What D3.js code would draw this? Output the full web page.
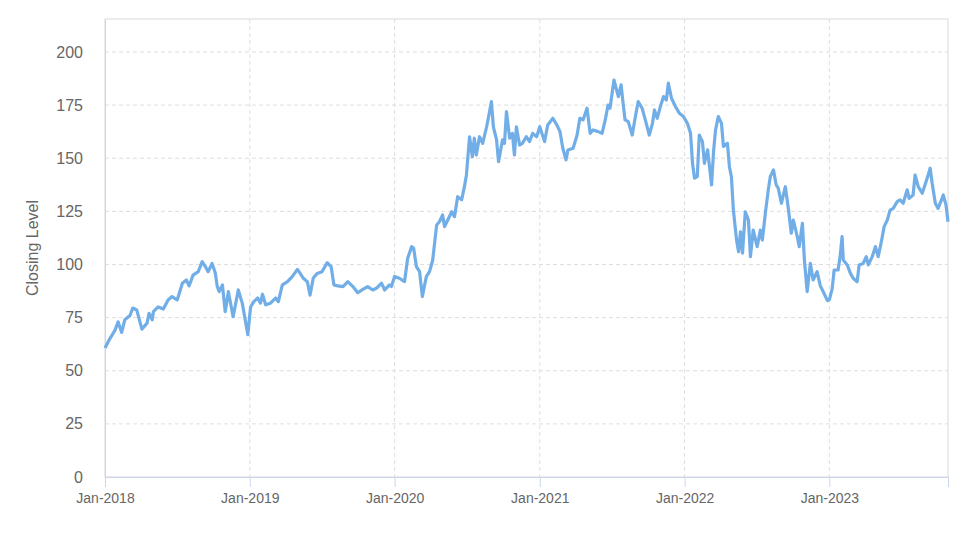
<!DOCTYPE html>
<html>
<head>
<meta charset="utf-8">
<script src="https://cdn.jsdelivr.net/npm/d3@7"></script>
<style>
  body { margin: 0; background: #fff; }
  svg { display: block; font-family: "Liberation Sans", Arial, sans-serif; }
</style>
</head>
<body>
<div class="graph"></div>
<script>
// closing levels (date, close)
const y2018 = [
  ["2018-01-01",60.7],["2018-01-13",65],["2018-01-26",69],["2018-02-03",73],["2018-02-12",68],
  ["2018-02-20",74],["2018-03-05",76],["2018-03-12",79.5],["2018-03-22",78.6],["2018-03-30",73],
  ["2018-04-04",69.6],["2018-04-17",72.4],["2018-04-22",77],["2018-04-30",74],["2018-05-03",77.8],
  ["2018-05-15",80],["2018-05-28",79],["2018-06-09",83.3],["2018-06-19",84.9],["2018-07-02",83.3],
  ["2018-07-15",91.2],["2018-07-25",92.7],["2018-08-01",89.9],["2018-08-11",95],["2018-08-24",96.6],
  ["2018-09-03",101.3],["2018-09-11",99],["2018-09-18",96.6],["2018-09-28",100.5],["2018-10-06",96],
  ["2018-10-11",89.6],["2018-10-16",87.2],["2018-10-24",90.4],["2018-10-31",77.8],["2018-11-08",87.2],
  ["2018-11-20",75.4],["2018-12-03",88],["2018-12-13",81.8],["2018-12-27",67]
]
const y2019 = [
  ["2019-01-03",80],["2019-01-11",82.5],["2019-01-21",84.2],["2019-01-28",81.8],["2019-02-02",86],
  ["2019-02-10",81],["2019-02-22",81.8],["2019-03-07",84.2],["2019-03-14",82.5],["2019-03-24",90.4],
  ["2019-04-06",91.9],["2019-04-18",94.3],["2019-05-01",97.7],["2019-05-08",95.8],["2019-05-16",93.5],
  ["2019-05-26",91.9],["2019-06-02",85.6],["2019-06-10",93.6],["2019-06-20",95.8],["2019-07-02",96.6],
  ["2019-07-15",100.8],["2019-07-25",99],["2019-08-01",90.4],["2019-08-11",89.9],["2019-08-24",89.6],
  ["2019-09-05",91.9],["2019-09-18",89.6],["2019-09-30",86.7],["2019-10-13",88.3],["2019-10-25",89.6],
  ["2019-11-07",88],["2019-11-17",88.9],["2019-11-29",91.2],["2019-12-07",88],["2019-12-19",90.4],
  ["2019-12-24",89.6]
]
const y2020 = [
  ["2020-01-01",94.3],["2020-01-13",93.5],["2020-01-26",91.9],["2020-02-03",102.9],["2020-02-13",108.4],
  ["2020-02-18",107.6],["2020-02-25",99],["2020-03-04",96.6],["2020-03-11",84.9],["2020-03-21",94.3],
  ["2020-03-29",96.6],["2020-04-06",102],["2020-04-16",118.6],["2020-04-23",120.1],["2020-05-01",123.3],
  ["2020-05-06",117.8],["2020-05-14",120.9],["2020-05-24",124.8],["2020-05-31",122.5],["2020-06-08",131.9],
  ["2020-06-18",130.4],["2020-06-25",136.6],["2020-06-30",142],["2020-07-08",160.1],["2020-07-15",150.7],
  ["2020-07-20",159.4],["2020-07-25",151.5],["2020-08-02",160.1],["2020-08-10",157],["2020-08-20",164.8],
  ["2020-08-25",169.6],["2020-09-01",176.6],["2020-09-06",164.8],["2020-09-14",158.6],["2020-09-19",148.4],
  ["2020-09-29",158.6],["2020-10-04",157],["2020-10-09",171.9],["2020-10-17",159.4],["2020-10-24",161.7],
  ["2020-10-29",151.5],["2020-11-03",164.8],["2020-11-11",156.2],["2020-11-18",157],["2020-11-28",160.1],
  ["2020-12-06",157.8],["2020-12-14",161.7],["2020-12-24",160.1]
]
const y2021 = [
  ["2021-01-01",164.8],["2021-01-13",157.8],["2021-01-21",165.6],["2021-02-03",168.8],["2021-02-13",165.6],
  ["2021-02-21",162.5],["2021-02-28",154.7],["2021-03-08",149.2],["2021-03-13",153.9],["2021-03-26",154.7],
  ["2021-04-05",160.9],["2021-04-12",168.8],["2021-04-20",168],["2021-04-30",173.5],["2021-05-08",161.7],
  ["2021-05-15",163.3],["2021-05-28",162.5],["2021-06-07",161.7],["2021-06-15",168],["2021-06-22",175],
  ["2021-06-27",173.5],["2021-07-07",186.8],["2021-07-18",179],["2021-07-25",184.5],["2021-07-30",175.8],
  ["2021-08-04",168],["2021-08-12",167.2],["2021-08-22",160.9],["2021-08-30",169.6],["2021-09-06",176.6],
  ["2021-09-16",173.5],["2021-09-24",168],["2021-10-04",160.9],["2021-10-12",166.4],["2021-10-17",172.7],
  ["2021-10-24",168.8],["2021-11-01",174.3],["2021-11-09",179],["2021-11-16",177.4],["2021-11-21",185.3],
  ["2021-11-29",178.2],["2021-12-09",174.3],["2021-12-19",171.1],["2021-12-29",169.6]
]
const y2022 = [
  ["2022-01-08",166.4],["2022-01-16",161.7],["2022-01-21",147.6],["2022-01-26",140.6],["2022-02-02",141.3],
  ["2022-02-07",160.9],["2022-02-15",157.8],["2022-02-20",147.6],["2022-02-28",153.9],["2022-03-10",137.4],
  ["2022-03-15",153.1],["2022-03-20",163.3],["2022-03-27",169.6],["2022-04-04",166.4],["2022-04-09",155.5],
  ["2022-04-19",157],["2022-04-24",146],["2022-04-29",141.3],["2022-05-04",125.6],["2022-05-12",111.5],
  ["2022-05-17",106],["2022-05-22",115.4],["2022-05-27",105.3],["2022-06-03",124.8],["2022-06-11",120.9],
  ["2022-06-16",103.7],["2022-06-23",116.2],["2022-07-03",108.4],["2022-07-11",116.2],["2022-07-16",111.5],
  ["2022-07-24",124.8],["2022-07-31",135.1],["2022-08-05",141.3],["2022-08-13",144.5],["2022-08-20",137.4],
  ["2022-08-25",135.9],["2022-09-02",128.8],["2022-09-12",136.6],["2022-09-20",125.6],["2022-09-27",114.7],
  ["2022-10-02",120.9],["2022-10-12",113.1],["2022-10-17",108.4],["2022-10-25",119.4],["2022-10-30",102.1],
  ["2022-11-06",87.2],["2022-11-14",100.5],["2022-11-21",92.7],["2022-12-01",96.6],["2022-12-09",90],
  ["2022-12-17",87],["2022-12-27",83]
]
const y2023 = [
  ["2023-01-01",83.5],["2023-01-08",88.5],["2023-01-13",97.4],["2023-01-23",97.4],["2023-01-28",103.7],
  ["2023-02-02",113.1],["2023-02-05",102.1],["2023-02-15",99.8],["2023-02-23",95.8],["2023-03-02",93.5],
  ["2023-03-12",91.9],["2023-03-17",99.8],["2023-03-27",100.5],["2023-04-04",103.7],["2023-04-09",99.8],
  ["2023-04-19",103.7],["2023-04-27",108.4],["2023-05-04",103.7],["2023-05-12",110.7],["2023-05-19",117.8],
  ["2023-05-27",120.9],["2023-06-03",125.6],["2023-06-11",126.4],["2023-06-21",129.6],["2023-06-28",130.4],
  ["2023-07-06",128.8],["2023-07-16",135.1],["2023-07-21",131.1],["2023-07-31",132.7],["2023-08-05",142.1],
  ["2023-08-13",136.6],["2023-08-23",133.5],["2023-08-30",137.4],["2023-09-07",142.1],["2023-09-12",145.3],
  ["2023-09-17",138.2],["2023-09-25",128.8],["2023-10-02",126.4],["2023-10-12",131.1],["2023-10-15",132.7],
  ["2023-10-22",128],["2023-10-27",120.1]
]
const yTicks = [0,25,50,75,100,125,150,175,200]
const yTitle = "Closing Level"

const parse = d3.timeParse("%Y-%m-%d")
let data = [].concat(y2018,y2019,y2020,y2021,y2022,y2023).map(d => ({date: parse(d[0]), close: d[1]}))

const W = 974, H = 547
const m = {top: 19, right: 26, bottom: 70, left: 105}
const w = W - m.left - m.right, h = H - m.top - m.bottom

let svg = d3.select('.graph').append('svg')
    .attr('width', W).attr('height', H)
let g = svg.append('g').attr('transform', `translate(${m.left},${m.top})`)

let x = d3.scaleTime()
    .domain([parse("2018-01-01"), parse("2023-10-27")])
    .range([0, w])
let y = d3.scaleLinear().domain([0, 215.5]).range([h, 0])

// frame
g.append('rect').attr('width', w).attr('height', h)
    .attr('fill', 'none').attr('stroke', '#d9d9d9').attr('stroke-width', 1)

// grid
g.append('g').selectAll('line').data(yTicks.filter(d => d > 0)).enter().append('line')
    .attr('x1', 0).attr('x2', w)
    .attr('y1', d => y(d)).attr('y2', d => y(d))
    .attr('stroke', '#dedede').attr('stroke-dasharray', '4,3')
let years = x.ticks(d3.timeYear.every(1))
g.append('g').selectAll('line').data(years.slice(1)).enter().append('line')
    .attr('x1', d => x(d)).attr('x2', d => x(d))
    .attr('y1', 0).attr('y2', h)
    .attr('stroke', '#dedede').attr('stroke-dasharray', '4,3')

// axes
let xAxis = g.append('g').attr('transform', `translate(0,${h})`)
    .call(d3.axisBottom(x).tickValues(years).tickFormat(d3.timeFormat('%b-%Y')).tickSize(10).tickPadding(6))
xAxis.select('.domain').attr('stroke', '#ccd6eb')
xAxis.selectAll('.tick line').attr('stroke', '#ccd6eb')
xAxis.selectAll('text').attr('fill', '#666').style('font-size', '14px')

let yAxis = g.append('g')
    .call(d3.axisLeft(y).tickValues(yTicks).tickSize(0).tickPadding(22))
yAxis.select('.domain').attr('stroke', '#ccd6eb')
yAxis.selectAll('text').attr('fill', '#666').style('font-size', '16px')

svg.append('text')
    .attr('transform', `translate(38,${m.top + h / 2}) rotate(-90)`)
    .attr('text-anchor', 'middle')
    .attr('fill', '#666').style('font-size', '16px')
    .text(yTitle)

// line
let line = d3.line()
    .x(d => x(d.date))
    .y(d => y(d.close))
g.append('path').datum(data)
    .attr('d', line)
    .attr('fill', 'none')
    .attr('stroke', '#71aee8')
    .attr('stroke-width', 3.2)
    .attr('stroke-linejoin', 'round')
</script>
</body>
</html>
